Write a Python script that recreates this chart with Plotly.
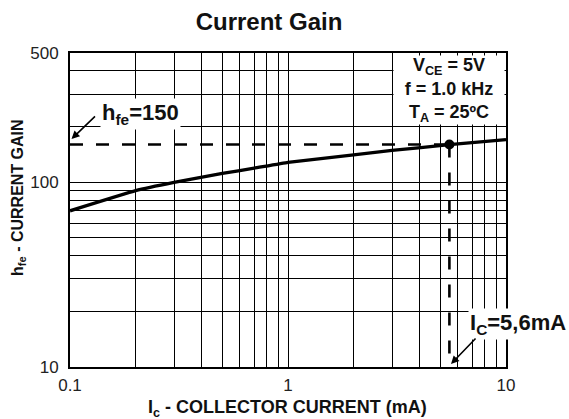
import numpy as np
import plotly.graph_objects as go

# ---- data ----
ic_ma = [0.1, 0.2, 0.3, 0.5, 0.7, 1, 2, 3, 5.5, 10]
hfe = [70, 90, 99.7, 111.5, 119, 128, 140.5, 148.5, 159.5, 170]

ref_ic = 5.5      # marked operating point (mA)
ref_hfe = 160     # marked gain level

x_ticks = [0.1, 1, 10]
x_tick_labels = ["0.1", "1", "10"]
x_minor = [0.2, 0.3, 0.4, 0.5, 0.6, 0.7, 0.8, 0.9, 2, 3, 4, 5, 6, 7, 8, 9]
y_ticks = [10, 100, 500]
y_tick_labels = ["10", "100", "500"]
y_minor = [20, 30, 40, 50, 60, 70, 80, 90, 200, 300, 400]

x_min, x_max = 0.1, 10
y_min, y_max = 10, 500

FONT = "Liberation Sans, Arial, sans-serif"

fig = go.Figure()

# dashed reference lines
fig.add_trace(go.Scatter(x=[x_min, ref_ic], y=[ref_hfe, ref_hfe], mode="lines",
                         line=dict(color="black", width=2.6, dash="13px,13px"),
                         hoverinfo="skip", showlegend=False))
fig.add_trace(go.Scatter(x=[ref_ic, ref_ic], y=[ref_hfe, y_min], mode="lines",
                         line=dict(color="black", width=2.6, dash="13px,15px"),
                         hoverinfo="skip", showlegend=False))
# gain curve
fig.add_trace(go.Scatter(x=ic_ma, y=hfe, mode="lines",
                         line=dict(color="black", width=3.3, shape="spline", smoothing=0.3),
                         showlegend=False))
# operating point
fig.add_trace(go.Scatter(x=[ref_ic], y=[ref_hfe], mode="markers",
                         marker=dict(color="black", size=10), showlegend=False))

axis_common = dict(
    type="log",
    showline=True, linecolor="black", linewidth=2, mirror=True,
    showgrid=True, gridcolor="black", gridwidth=1.3,
    ticks="", zeroline=False,
    tickfont=dict(family=FONT, size=17, color="#222"),
)

fig.update_xaxes(
    **axis_common,
    range=[np.log10(x_min), np.log10(x_max)],
    tickmode="array", tickvals=x_ticks, ticktext=x_tick_labels,
    minor=dict(tickmode="array", tickvals=x_minor, showgrid=True,
               gridcolor="black", gridwidth=1.3),
    ticklabelstandoff=2,
)
fig.update_yaxes(
    **axis_common,
    range=[np.log10(y_min), np.log10(y_max)],
    tickmode="array", tickvals=y_ticks, ticktext=y_tick_labels,
    minor=dict(tickmode="array", tickvals=y_minor, showgrid=True,
               gridcolor="black", gridwidth=1.3),
    ticklabelstandoff=6,
)

W, H = 569, 419
L, R, T, B = 70, 63, 53, 52
pw, ph = W - L - R, H - T - B


def px(xp):
    return (xp - L) / pw


def py(yp):
    return (H - B - yp) / ph


ann = []
# conditions box
ann.append(dict(xref="paper", yref="paper", x=1, y=1, xanchor="right", yanchor="top",
                xshift=-1.5, yshift=-1.5, width=110, height=68, bgcolor="white",
                showarrow=False, align="center", borderpad=0,
                text="V<sub>CE</sub> = 5V<br>f = 1.0 kHz<br>T<sub>A</sub> = 25ºC",
                font=dict(family=FONT, size=18, color="#111", weight="bold")))
# hfe label
ann.append(dict(xref="paper", yref="paper", x=px(140), y=py(114), xanchor="center", yanchor="middle",
                showarrow=False, bgcolor="white", borderpad=1,
                text="h<sub>fe</sub>=150",
                font=dict(family=FONT, size=22, color="#111", weight="bold")))
ann.append(dict(xref="paper", yref="paper", x=px(71.5), y=py(139), text="", showarrow=True,
                ax=25, ay=-24, arrowhead=2, arrowsize=1, arrowwidth=1.6, arrowcolor="black"))
# IC label
ann.append(dict(xref="paper", yref="paper", x=px(518), y=py(324), xanchor="center", yanchor="middle",
                showarrow=False, bgcolor="white", borderpad=1,
                text="I<sub>C</sub>=5,6mA",
                font=dict(family=FONT, size=22, color="#111", weight="bold")))
ann.append(dict(xref="paper", yref="paper", x=px(451), y=py(364), text="", showarrow=True,
                ax=26, ay=-27, arrowhead=2, arrowsize=1, arrowwidth=1.6, arrowcolor="black"))
# axis titles
ann.append(dict(xref="paper", yref="paper", x=px(287), y=py(408), xanchor="center", yanchor="middle",
                showarrow=False, text="I<sub>c</sub> - COLLECTOR CURRENT (mA)",
                font=dict(family=FONT, size=18, color="#111", weight="bold")))
ann.append(dict(xref="paper", yref="paper", x=px(18), y=py(198), xanchor="center", yanchor="middle",
                showarrow=False, textangle=-90, text="h<sub>fe</sub> - CURRENT GAIN",
                font=dict(family=FONT, size=16, color="#111", weight="bold")))

fig.update_layout(
    width=W, height=H,
    margin=dict(l=L, r=R, t=T, b=B),
    paper_bgcolor="white", plot_bgcolor="white",
    title=dict(text="Current Gain", x=px(269), xref="paper", xanchor="center",
               y=1 - 22 / H, yref="container", yanchor="middle",
               font=dict(family=FONT, size=24, color="#111", weight="bold")),
    annotations=ann,
    showlegend=False,
)

fig.write_html("out.html", config={"displayModeBar": False})
